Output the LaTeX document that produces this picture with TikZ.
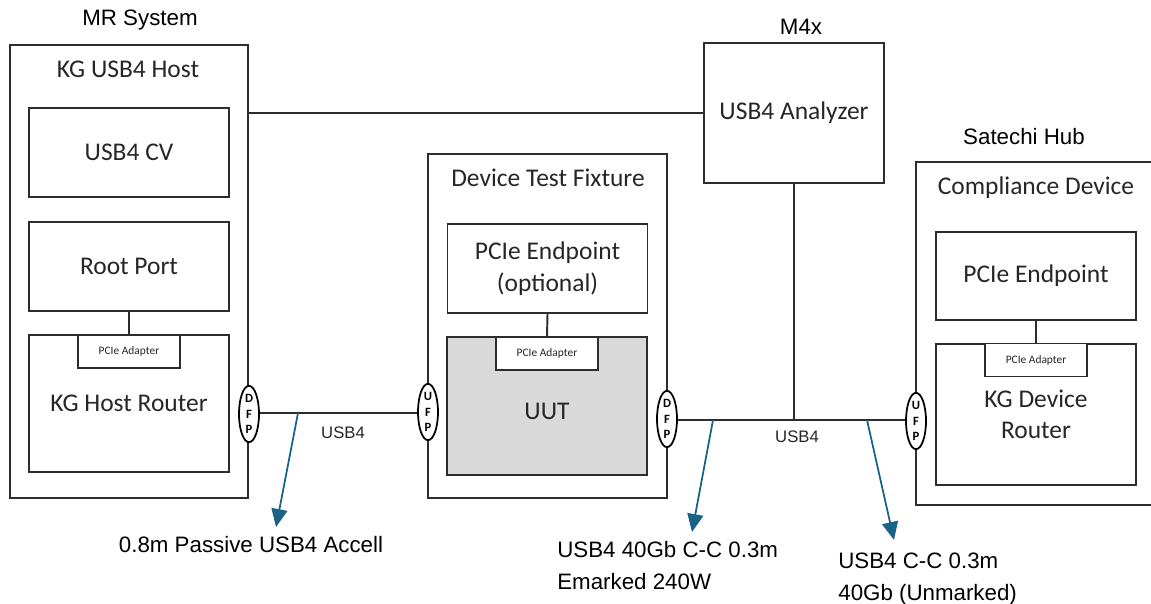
\documentclass[tikz,border=0pt]{standalone}
\usepackage{fontspec}
\usetikzlibrary{arrows.meta, shapes.geometric, calc}
\newfontfamily\boxfont{Carlito}
\newfontfamily\labelfont{Liberation Sans}
\definecolor{frame}{RGB}{45,45,45}
\definecolor{cable}{RGB}{26,98,134}
\definecolor{uutfill}{RGB}{217,217,217}
\tikzset{
  block/.style={
    rectangle, draw=frame, line width=1.1pt, fill=white, inner sep=0pt,
    align=center, font=\boxfont\fontsize{14.5}{18}\selectfont, text=black!85
  },
  adapter/.style={block, minimum width=2.05cm, minimum height=0.66cm,
    font=\boxfont\fontsize{6.5}{8}\selectfont},
  port/.style={
    ellipse, draw=black, line width=1pt, fill=white, minimum width=0.4cm,
    minimum height=1.1cm, inner sep=0pt, align=center,
    font=\boxfont\bfseries\fontsize{7.2}{9}\selectfont
  },
  heading/.style={font=\boxfont\fontsize{14.5}{18}\selectfont, text=black!85},
  outer label/.style={font=\labelfont\fontsize{12.7}{18}\selectfont, align=left},
  bus label/.style={font=\labelfont\fontsize{9.5}{11}\selectfont, text=black!85},
  link/.style={draw=frame, line width=1.1pt},
  cable arrow/.style={draw=cable, line width=1pt, -{Triangle[length=0.36cm, width=0.32cm]}},
}

\begin{document}
\begin{tikzpicture}[x=0.02cm, y=-0.02cm]
  \useasboundingbox (0,0) rectangle (1151,603);

  % MR system / host
  \node[outer label] (mrlabel) at (140,20) {MR System};
  \node[block, minimum width=4.76cm, minimum height=9.06cm] (host) at (129,271.5) {};
  \node[heading] (hosttitle) at (128,69) {KG USB4 Host};
  \node[block, minimum width=4cm, minimum height=1.78cm] (cv) at (129,152.5) {USB4 CV};
  \node[block, minimum width=4cm, minimum height=1.78cm] (root) at (129,266.5) {Root Port};
  \node[block, minimum width=4cm, minimum height=2.74cm] (hostrouter) at (129,403.5) {KG Host Router};
  \node[adapter] (hostadapter) at (129,351.5) {PCIe Adapter};

  % device test fixture
  \node[block, minimum width=4.78cm, minimum height=6.88cm] (fixture) at (547.5,326) {};
  \node[heading] (fixturetitle) at (548,178) {Device Test Fixture};
  \node[block, minimum width=4cm, minimum height=1.78cm] (endpoint) at (547.5,268.5) {PCIe Endpoint\\(optional)};
  \node[block, fill=uutfill, minimum width=4cm, minimum height=2.76cm] (uut) at (547,406) {};
  \node[heading] (uuttext) at (547,411) {UUT};
  \node[adapter] (uutadapter) at (547,353.5) {PCIe Adapter};

  % analyzer
  \node[outer label] (m4xlabel) at (801,27) {M4x};
  \node[block, minimum width=3.6cm, minimum height=2.8cm] (analyzer) at (794,113) {USB4 Analyzer};

  % compliance device
  \node[outer label] (hublabel) at (1024,137) {Satechi Hub};
  \node[block, minimum width=4.74cm, minimum height=6.86cm] (hub) at (1034.5,333.5) {};
  \node[heading] (hubtitle) at (1036,188) {Compliance Device};
  \node[block, minimum width=4cm, minimum height=1.76cm] (devendpoint) at (1036,276) {PCIe Endpoint};
  \node[block, minimum width=4cm, minimum height=2.82cm] (devrouter) at (1036,414.5) {KG Device\\Router};
  \node[adapter] (devadapter) at (1036,360) {PCIe Adapter};

  % ports
  \node[port] (dfpA) at (249,414) {D\\F\\P};
  \node[port] (ufpA) at (428,412) {U\\F\\P};
  \node[port] (dfpB) at (667,419) {D\\F\\P};
  \node[port] (ufpB) at (916,421) {U\\F\\P};

  % links
  \draw[link] (analyzer.west -| host.east) -- (analyzer.west);
  \draw[link] (root.south) -- (hostadapter.north);
  \draw[link] (endpoint.south) -- (uutadapter.north);
  \draw[link] (devendpoint.south) -- (devadapter.north);
  \draw[link] (dfpA.east |- 0,413) -- (ufpA.west |- 0,413);
  \draw[link] (dfpB.east |- 0,420) -- (ufpB.west |- 0,420);
  \coordinate (tap) at (analyzer.south |- 0,420);
  \draw[link] (analyzer.south) -- (tap);
  \node[bus label] (usbA) at (343,433) {USB4};
  \node[bus label] (usbB) at (797,437) {USB4};

  % cables
  \coordinate (tapA) at (298,413);
  \coordinate (tipA) at (276,527);
  \coordinate (tapB) at (713,420);
  \coordinate (tipB) at (692,532);
  \coordinate (tapC) at (867,420);
  \coordinate (tipC) at (894,540);
  \draw[cable arrow] (tapA) -- (tipA);
  \draw[cable arrow] (tapB) -- (tipB);
  \draw[cable arrow] (tapC) -- (tipC);

  \node[outer label] (capA) at (251,545) {0.8m Passive USB4 Accell};
  \node[outer label, anchor=north west, inner sep=0pt] (capB) at (557,541) {USB4 40Gb C-C 0.3m\\Emarked 240W};
  \node[outer label, anchor=north west, inner sep=0pt] (capC) at (838,553) {USB4 C-C 0.3m\\40Gb (Unmarked)};
\end{tikzpicture}
\end{document}
